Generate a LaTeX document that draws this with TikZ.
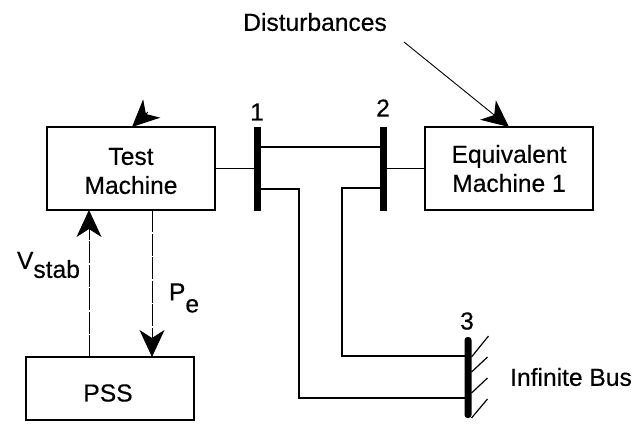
\documentclass[tikz,border=0pt]{standalone}
\usepackage{fontspec}
\setmainfont[FakeBold=0.35]{Liberation Sans}
\usetikzlibrary{arrows.meta, positioning}

\begin{document}
\begin{tikzpicture}[
  x=1pt, y=-1pt,
  font=\fontsize{24.6}{29}\selectfont,
  node distance=42pt and 40pt,
  box/.style  ={draw, line width=1.2pt, align=center, inner sep=0pt, outer sep=0pt,
                minimum width=168pt, minimum height=83pt},
  bus/.style  ={fill=black, inner sep=0pt, outer sep=0pt, minimum width=7pt,
                minimum height=84pt},
  tag/.style  ={inner sep=0pt, outer sep=0pt, align=center},
  line/.style ={line width=1.3pt},
  sig/.style  ={line width=0.9pt, dash pattern=on 22pt off 1.5pt,
                -{Stealth[length=27pt, width=25pt, inset=8pt]}},
  hatch/.style={line width=1.2pt},
]
\useasboundingbox (0,0) rectangle (637,424);

% ================= row 1: machines and buses =================
\node[box] (test) at (131,168.5) {};
\node[tag] (testtext) at (131,171) {Test\\Machine};
\node[bus, right=38.5pt of test] (bus1) {};
\node[bus, right=119pt of bus1] (bus2) {};
\node[box, right=38.5pt of bus2] (equiv) {Equivalent\\Machine 1};

\node[tag] at (257,112) (num1) {1};
\node[tag] at (383,108) (num2) {2};

\draw[line] (test) -- (bus1);
\draw[line] (bus2) -- (equiv);
\draw[line] (bus1.east |- 0,147) -- (bus2.west |- 0,147);

% ================= disturbances =================
\node[tag] (dist) at (315,22) {Disturbances};
\coordinate (distfoot) at (404,42);
\draw[sig, dash pattern=] (distfoot) -- (equiv.north);

% stray head on the test machine
\coordinate (headback) at (148,112);
\draw[sig, dash pattern=] (headback) -- (132,127);

% ================= row 2: stabilizer loop =================
\node[box, minimum height=63pt] (pss) at (110,388.5) {};
\node[tag] (psstext) at (108,393) {PSS};

\draw[sig] (89,357) -- (89,210);
\draw[sig] (152,210) -- (152,357);

\node[tag, anchor=west] (vstab) at (17,265) {V\raisebox{-9pt}{stab}};
\node[tag, anchor=west] (pe) at (169,298) {P\raisebox{-12pt}{e}};

% ================= infinite bus =================
\node[bus, minimum height=81pt, rounded corners=3pt] (bus3) at (468,377.5) {};
\node[tag] (num3) at (467,321) {3};
\node[tag] (inf) at (571,377) {Infinite Bus};

\coordinate (turn2) at (342,188);
\coordinate (turn1) at (299,189);
\draw[line] (bus2.west |- turn2) -- (turn2) |- (bus3.west |- 0,356);
\draw[line] (bus1.east |- turn1) -- (turn1) |- (bus3.west |- 0,398);

\foreach \y/\dx/\dy in {357/17/21, 372/16/15, 393/16/15, 418/16/19}{
  \draw[hatch] (bus3.east |- 0,\y) -- ++(\dx,-\dy);
}

\end{tikzpicture}
\end{document}
